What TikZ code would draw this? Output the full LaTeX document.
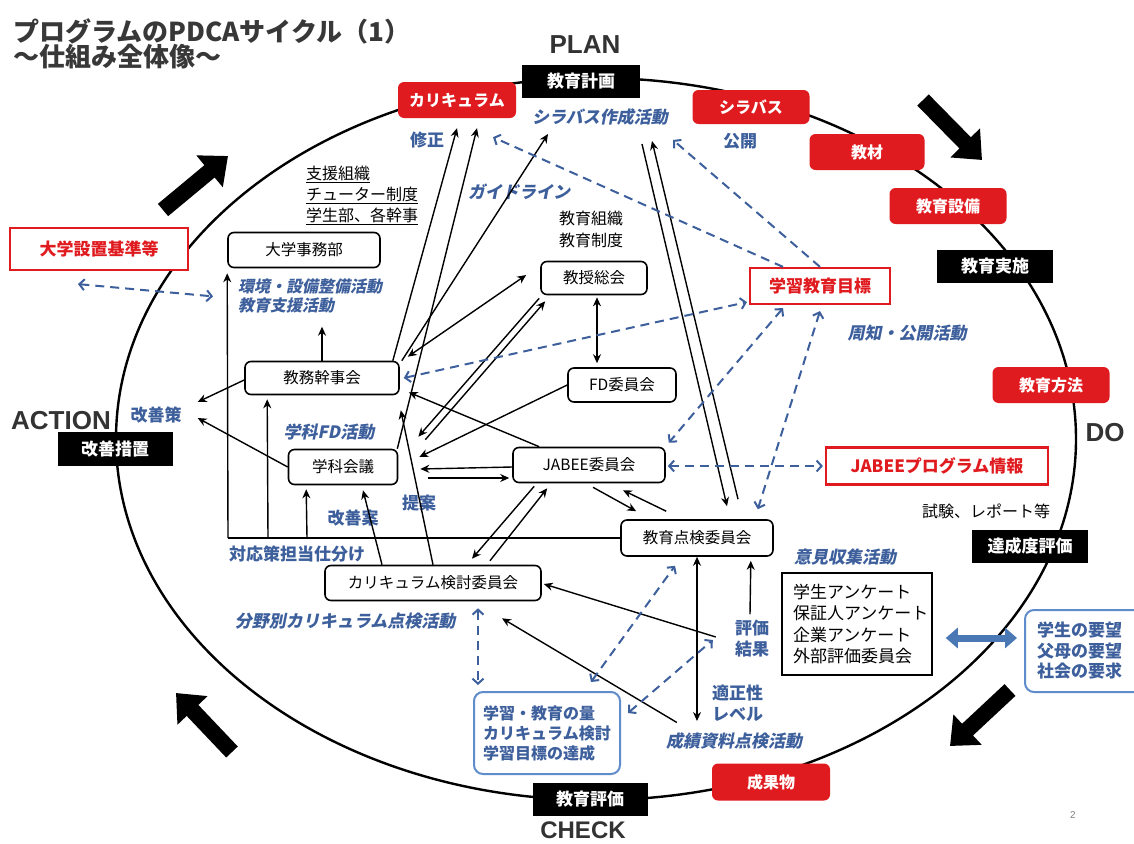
\documentclass[tikz,border=0pt]{standalone}
\usepackage{fontspec}
\setmainfont{Noto Sans CJK JP}
\newfontfamily\jpit{Noto Sans CJK JP}[FakeSlant=0.2]
\newfontfamily\latb{Liberation Sans}
\usetikzlibrary{arrows.meta,calc}
\definecolor{lblue}{HTML}{3D5F9C}
\definecolor{bred}{HTML}{E01B1F}
\definecolor{bbox}{HTML}{5F8CCB}
\definecolor{bthick}{HTML}{4A78B5}
\newcommand{\fsz}[2]{\fontsize{#1}{#2}\selectfont}
\tikzset{
 blk/.style={fill=black,text=white,font=\fsz{17}{20}\bfseries,minimum width=116pt,minimum height=33pt,inner sep=0pt},
 redf/.style={fill=bred,text=white,rounded corners=6pt,font=\fsz{16}{19}\bfseries,minimum width=117pt,minimum height=36pt,inner sep=0pt},
 redo/.style={draw=bred,line width=2.2pt,fill=white,text=bred,font=\fsz{17}{20}\bfseries,minimum height=38pt,inner sep=0pt},
 org/.style={draw=black,line width=1.6pt,rounded corners=6pt,fill=white,font=\fsz{15.5}{18},minimum height=34pt,inner sep=0pt},
 bl/.style={text=lblue,font=\fsz{17}{21}\bfseries,inner sep=0pt},
 bli/.style={text=lblue,font=\jpit\fsz{17}{21}\bfseries,inner sep=0pt},
 tx/.style={text=black,font=\fsz{16}{21},inner sep=0pt},
 phase/.style={font=\latb\fsz{26}{30}\bfseries,text=black!80,inner sep=0pt},
 conn/.style={draw=black,line width=1.4pt,-{Stealth[length=9pt,width=8pt]}},
 conn2/.style={draw=black,line width=1.4pt,{Stealth[length=9pt,width=8pt]}-{Stealth[length=9pt,width=8pt]}},
 dsh/.style={draw=lblue,line width=2pt,dash pattern=on 9pt off 6pt,-{Straight Barb[length=5pt,width=11pt]}},
 dsh2/.style={draw=lblue,line width=2pt,dash pattern=on 9pt off 6pt,{Straight Barb[length=5pt,width=11pt]}-{Straight Barb[length=5pt,width=11pt]}},
 bigarr/.style={draw=black,line width=16pt,-{Triangle[length=24pt,width=40pt]}},
}
\begin{document}
\begin{tikzpicture}[x=1pt,y=-1pt]
\useasboundingbox (0,0) rectangle (1134,843);
\fill[white] (0,0) rectangle (1134,843);
% cycle ellipse
\draw[line width=2.4pt] (596,439) ellipse [x radius=480pt, y radius=361pt];
% big block arrows
\draw[bigarr] (163,210) -- (228,156);
\draw[bigarr] (923,100) -- (982,160);
\draw[bigarr] (1010,690) -- (950,746);
\draw[bigarr] (232,752) -- (176,693);
% title
\node[anchor=west,font=\fsz{26}{30}\bfseries,text=black!78,inner sep=0pt] (t1) at (13,31) {プログラムのPDCAサイクル（1）};
\node[anchor=west,font=\fsz{26}{30}\bfseries,text=black!78,inner sep=0pt] (t2) at (13,57) {～仕組み全体像～};
% phases
\node[phase] (plan) at (585,45) {PLAN};
\node[phase] (action) at (61,421) {ACTION};
\node[phase] (do) at (1105,433) {DO};
\node[phase,font=\latb\fsz{24}{28}\bfseries] (check) at (583,830) {CHECK};
% black boxes
\node[blk,minimum width=118pt] (kkk) at (581,81) {教育計画};
\node[blk] (kjs) at (995,266) {教育実施};
\node[blk,minimum width=115pt,minimum height=34pt] (kzs) at (115,449) {改善措置};
\node[blk] (tsh) at (1030,546) {達成度評価};
\node[blk,minimum width=115pt,minimum height=33pt] (khk) at (590,799) {教育評価};
% red filled boxes
\node[redf,minimum width=118pt] (cur) at (457,100) {カリキュラム};
\node[redf,minimum height=34pt] (syl) at (751,107) {シラバス};
\node[redf,minimum width=115pt] (kyz) at (867,152) {教材};
\node[redf] (set) at (948,206) {教育設備};
\node[redf] (hoh) at (1051,385) {教育方法};
\node[redf,minimum width=118pt,minimum height=37pt] (sek) at (771,782) {成果物};
% red outlined boxes
\node[redo,minimum width=178pt,minimum height=42pt] (std) at (99,249) {大学設置基準等};
\node[redo,minimum width=140pt,minimum height=36pt] (goal) at (820,286) {学習教育目標};
\node[redo,minimum width=222pt,minimum height=37pt] (jinfo) at (937,466) {JABEEプログラム情報};
% organisation boxes
\node[org,minimum width=152pt,minimum height=35pt] (jim) at (304,250) {大学事務部};
\node[org,minimum width=106pt,minimum height=33pt] (sok) at (594,278) {教授総会};
\node[org,minimum width=154pt,minimum height=33pt] (kmk) at (322,378) {教務幹事会};
\node[org,minimum width=108pt,minimum height=34pt] (fd) at (622,385) {FD委員会};
\node[org,minimum width=109pt,minimum height=35pt] (gkk) at (343,467) {学科会議};
\node[org,minimum width=152pt,minimum height=35pt] (jab) at (589,465) {JABEE委員会};
\node[org,minimum width=152pt,minimum height=36pt] (tnk) at (697,538) {教育点検委員会};
\node[org,minimum width=216pt,minimum height=35pt] (ckk) at (433,583) {カリキュラム検討委員会};
% survey box
\node[draw=black,line width=1.5pt,fill=white,font=\fsz{17}{21.5},align=left,text width=128pt,inner xsep=11pt,inner ysep=0pt,minimum height=102pt] (svy) at (857,624) {学生アンケート\\保証人アンケート\\企業アンケート\\外部評価委員会};
% blue boxes
\node[draw=bbox,line width=2pt,rounded corners=9pt,fill=white,text=lblue,font=\fsz{17}{20.5}\bfseries,align=left,text width=100pt,inner xsep=12pt,inner ysep=0pt,minimum height=82pt] (req) at (1087,651) {学生の要望\\父母の要望\\社会の要求};
\node[draw=bbox,line width=2pt,rounded corners=9pt,fill=white,text=lblue,font=\fsz{16}{20}\bfseries,align=left,minimum width=146pt,minimum height=82pt,inner sep=0pt] (qty) at (547,733) {学習・教育の量\\カリキュラム検討\\学習目標の達成};
% blue labels
\node[bl] (lmod) at (427,140) {修正};
\node[bli] (lsyl) at (600,117) {シラバス作成活動};
\node[bl] (lpub) at (740,141) {公開};
\node[bli] (lgl) at (519,192) {ガイドライン};
\node[bli,align=left,anchor=north west,font=\jpit\fsz{16}{19}\bfseries] (lenv) at (238,279) {環境・設備整備活動\\教育支援活動};
\node[bli] (lsh) at (907,333) {周知・公開活動};
\node[bl] (lkz) at (156,415) {改善策};
\node[bli] (lfd) at (329,432) {学科FD活動};
\node[bl] (lta) at (419,503) {提案};
\node[bl] (lka) at (353,518) {改善案};
\node[bl] (ltai) at (297,554) {対応策担当仕分け};
\node[bli] (lbun) at (345,621) {分野別カリキュラム点検活動};
\node[bli] (lik) at (845,557) {意見収集活動};
\node[bl,align=center] (lhk) at (752,639) {評価\\結果};
\node[bl,align=left,anchor=west] (ltk) at (712,703) {適正性\\レベル};
\node[bli] (lsei) at (734,741) {成績資料点検活動};
% black texts
\node[tx,align=left,anchor=north west] (lsup) at (306,166) {\underline{支援組織}\\\underline{チューター制度}\\\underline{学生部、各幹事}};
\node[tx,align=center,font=\fsz{16}{22}] (lorg) at (591,229) {教育組織\\教育制度};
\node[tx] (lexam) at (986,511) {試験、レポート等};
\node[font=\latb\fsz{10}{12},text=gray,inner sep=0pt] (pg) at (1073,815) {2};
% black connectors
\draw[conn] ($(kmk.north east)+(-7,0)$) -- ($(cur.south)+(0,10)$);
\draw[conn] ($(gkk.north east)+(-1,0)$) -- ($(cur.south)+(20,10)$);
\draw[conn] ($(kmk.north east)+(2,0)$) -- ($(lsyl)+(-52,17)$);
\draw[conn2] ($(kmk.north east)+(8,-4)$) -- ($(sok.west)+(-14,-3)$);
\draw[conn] ($(sok.south west)+(-1,3)$) -- ($(gkk.north east)+(20,-12)$);
\draw[conn] ($(gkk.north east)+(27,-9)$) -- ($(sok.south west)+(5,6)$);
\draw[conn2] ($(sok.south)+(3,2)$) -- ($(fd.north)+(-25,-4)$);
\draw[conn] (fd.west) -- ($(gkk.east)+(21,-10)$);
\draw[conn] ($(jab.north west)+(27,0)$) -- ($(kmk.south east)+(9,-3)$);
\draw[conn] ($(jab.west)+(0,2)$) -- ($(gkk.east)+(22,2)$);
\draw[conn] ($(gkk.east)+(30,11)$) -- ($(jab.west)+(-3,13)$);
\draw[conn] ($(ckk.north)+(57,-4)$) -- ($(jab.south west)+(35,5)$);
\draw[conn] ($(jab.south west)+(22,3)$) -- ($(ckk.north)+(39,-6)$);
\draw[conn] ($(jab.south)+(4,4)$) -- ($(tnk.north west)+(16,-8)$);
\draw[conn] ($(tnk.north west)+(46,-8)$) -- ($(jab.south)+(34,7)$);
\draw[conn] ($(lsyl)+(42,27)$) -- ($(tnk.north)+(30,-13)$);
\draw[conn] ($(tnk.north)+(41,-20)$) -- ($(lsyl)+(52,24)$);
\draw[conn] ($(kmk.west)+(0,2)$) -- ($(lkz.east)+(16,-13)$);
\draw[conn] (gkk.west) -- ($(lkz.east)+(16,3)$);
\draw[conn] (kmk.north) -- ++(0,-34);
\coordinate (bar) at (228,538);
\draw[line width=1.4pt] (tnk.west) -- (bar);
\draw[conn] (bar) -- ($(jim.south west)+(0,5)$);
\draw[conn] ($(bar)+(40,0)$) -- ($(kmk.south west)+(23,4)$);
\draw[conn] ($(bar)+(79,0)$) -- ($(gkk.south west)+(18.5,4)$);
\draw[conn] ($(ckk.north)+(-51,0)$) -- ($(gkk.south)+(20,5)$);
\draw[conn] (ckk.north) -- ($(kmk.south east)+(1,15)$);
\coordinate (sdown) at (697,721);
\draw[conn2] (tnk.south) -- (sdown);
\draw[conn] ($(lhk.north)+(-2,-6)$) -- ($(tnk.south east)+(-23,4)$);
\draw[conn] ($(lhk.west)+(-19,-2)$) -- ($(ckk.east)+(2,1)$);
\draw[conn] ($(lsei.north west)+(11,-10)$) -- ($(ckk.south)+(69,17)$);
% dashed blue connectors
\draw[dsh2] ($(std.south)+(-21,13)$) -- ($(lenv.west)+(-25,0)$);
\draw[dsh] ($(goal.north)+(-37,0)$) -- ($(cur.south)+(36,19)$);
\draw[dsh] (goal.north) -- ($(lpub)+(-67,-1)$);
\draw[dsh2] ($(kmk.east)+(4,0)$) -- ($(goal.south west)+(-2,-3)$);
\draw[dsh2] ($(goal.south)+(-37,3)$) -- ($(jab.north east)+(3,-4)$);
\draw[dsh2] ($(goal.south)+(0,6)$) -- ($(tnk.north east)+(-16,-10)$);
\draw[dsh2] ($(jab.east)+(2,1)$) -- ($(jinfo.west)+(-2,0)$);
\draw[dsh2] ($(ckk.south)+(45,7)$) -- ($(qty.north)+(-69,-6)$);
\draw[dsh2] ($(qty.north east)+(-30,-9)$) -- ($(tnk.south)+(-22,9)$);
\draw[dsh2] ($(qty.east)+(7,-20)$) -- ($(lhk.west)+(-22,1)$);
% thick blue double arrow
\draw[line width=7pt,draw=bthick,{Triangle[length=12pt,width=20pt]}-{Triangle[length=12pt,width=20pt]}] ($(svy.east)+(13,14)$) -- ($(req.west)+(-7,-13)$);
\end{tikzpicture}
\end{document}
